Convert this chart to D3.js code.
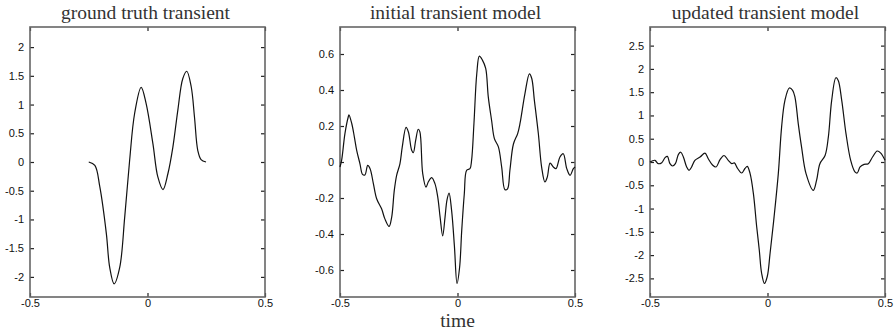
<!DOCTYPE html>
<meta charset="utf-8">
<html lang="en">
<head>
<script src="https://d3js.org/d3.v7.min.js"></script>
<style>
  body { margin: 0; background: #fff; }
  .title { font-family: "Liberation Serif", "Times New Roman", serif; font-size: 19.5px; fill: #333; }
  .tick text { font-family: "Liberation Sans", Arial, sans-serif; font-size: 11px; fill: #111; }
</style>
</head>
<body>
<div id="chart"></div>
<script>
// ground truth transient (t from -0.25 to 0.25)
var truthT = [-0.25, -0.224, -0.203, -0.175, -0.161, -0.142, -0.118, -0.097, -0.076, -0.055, -0.027, -0.006, 0.023, 0.044, 0.066, 0.087, 0.108, 0.129, 0.150, 0.167, 0.186, 0.200, 0.214, 0.228, 0.249];
var truthV = [0, -0.06, -0.43, -1.25, -1.83, -2.12, -1.83, -0.96, 0.03, 0.84, 1.30, 1.02, 0.32, -0.26, -0.48, -0.2, 0.26, 0.9, 1.45, 1.58, 1.31, 0.78, 0.2, 0.04, 0];

// initial transient model
var initT = [-0.5, -0.493, -0.479, -0.465, -0.462, -0.45, -0.439, -0.429, -0.415, -0.404, -0.394, -0.382, -0.372, -0.358, -0.344, -0.323, -0.309, -0.291, -0.28, -0.269, -0.259, -0.245, -0.235, -0.219, -0.209, -0.195, -0.188, -0.178, -0.167, -0.16, -0.148, -0.134, -0.124, -0.11, -0.096, -0.084, -0.074, -0.063, -0.053, -0.045, -0.036, -0.025, -0.013, -0.002, 0.009, 0.018, 0.029, 0.039, 0.053, 0.06, 0.07, 0.082, 0.093, 0.106, 0.12, 0.131, 0.145, 0.157, 0.174, 0.188, 0.202, 0.213, 0.223, 0.238, 0.256, 0.266, 0.287, 0.306, 0.316, 0.327, 0.344, 0.358, 0.372, 0.382, 0.394, 0.408, 0.419, 0.436, 0.45, 0.465, 0.479, 0.493, 0.5];
var initV = [-0.028, 0.01, 0.158, 0.25, 0.262, 0.214, 0.14, 0.065, -0.01, -0.069, -0.072, -0.019, -0.037, -0.12, -0.204, -0.26, -0.316, -0.358, -0.306, -0.158, -0.074, -0.01, 0.084, 0.192, 0.167, 0.065, 0.052, 0.12, 0.182, 0.167, -0.065, -0.14, -0.11, -0.087, -0.12, -0.195, -0.306, -0.41, -0.306, -0.213, -0.173, -0.27, -0.47, -0.675, -0.585, -0.38, -0.176, -0.046, -0.037, 0.01, 0.214, 0.49, 0.588, 0.566, 0.52, 0.362, 0.232, 0.13, 0.084, -0.028, -0.154, -0.149, -0.046, 0.1, 0.158, 0.214, 0.38, 0.49, 0.464, 0.344, 0.158, -0.028, -0.111, -0.084, -0.006, -0.028, -0.037, 0.028, 0.046, -0.037, -0.074, -0.037, -0.028];

// updated transient model
var updT = [-0.5, -0.479, -0.465, -0.45, -0.436, -0.426, -0.415, -0.404, -0.392, -0.379, -0.369, -0.358, -0.344, -0.334, -0.323, -0.309, -0.287, -0.266, -0.252, -0.233, -0.219, -0.202, -0.185, -0.167, -0.152, -0.141, -0.127, -0.11, -0.096, -0.086, -0.074, -0.06, -0.046, -0.035, -0.025, -0.013, -0.001, 0.011, 0.028, 0.046, 0.06, 0.074, 0.093, 0.107, 0.117, 0.131, 0.145, 0.164, 0.195, 0.209, 0.223, 0.245, 0.259, 0.273, 0.291, 0.301, 0.316, 0.334, 0.354, 0.372, 0.382, 0.394, 0.411, 0.429, 0.447, 0.467, 0.482, 0.5];
var updV = [0, 0.036, -0.036, -0.014, 0.093, 0.12, -0.036, -0.086, -0.036, 0.164, 0.21, 0.107, -0.107, -0.18, -0.107, 0.036, 0.107, 0.19, 0.07, -0.07, -0.107, 0.05, 0.14, 0.036, -0.036, -0.02, -0.14, -0.236, -0.14, -0.093, -0.25, -0.68, -1.39, -1.89, -2.39, -2.61, -2.46, -1.96, -1.18, -0.25, 0.75, 1.32, 1.59, 1.54, 1.39, 0.82, 0.32, -0.25, -0.61, -0.39, -0.036, 0.14, 0.54, 1.32, 1.81, 1.75, 1.32, 0.61, 0.036, -0.21, -0.236, -0.107, -0.05, -0.036, 0.107, 0.236, 0.19, 0.036];

var titles = ["ground truth transient", "initial transient model", "updated transient model"];
var yTicks1 = [-2, -1.5, -1, -0.5, 0, 0.5, 1, 1.5, 2];
var yTicks2 = [-0.6, -0.4, -0.2, 0, 0.2, 0.4, 0.6];
var yTicks3 = [-2.5, -2, -1.5, -1, -0.5, 0, 0.5, 1, 1.5, 2, 2.5];
var xTicks = [-0.5, 0, 0.5];

var width = 895, height = 331;
var svg = d3.select("#chart").append("svg")
  .attr("width", width).attr("height", height);

var panels = [
  { left: 30,  t: truthT, v: truthV, ydom: [-2.35, 2.35], yticks: yTicks1 },
  { left: 340, t: initT,  v: initV,  ydom: [-0.75, 0.75], yticks: yTicks2 },
  { left: 650, t: updT,   v: updV,   ydom: [-2.9, 2.9],   yticks: yTicks3 }
];
var pw = 235, plotTop = 27, plotBottom = 297;

function fmt(d) { return String(d); }

panels.forEach(function (p, i) {
  var x = d3.scaleLinear().domain([-0.5, 0.5]).range([p.left, p.left + pw]);
  var y = d3.scaleLinear().domain(p.ydom).range([plotBottom, plotTop]);
  var g = svg.append("g");

  // inward ticks on all four sides, labels only left/bottom
  g.append("g").attr("transform", "translate(0," + plotBottom + ")")
    .call(d3.axisBottom(x).tickValues(xTicks).tickSize(-4).tickPadding(2).tickFormat(fmt));
  g.append("g").attr("transform", "translate(0," + plotTop + ")")
    .call(d3.axisTop(x).tickValues(xTicks).tickSize(-4).tickFormat(""));
  g.append("g").attr("transform", "translate(" + p.left + ",0)")
    .call(d3.axisLeft(y).tickValues(p.yticks).tickSize(-4).tickPadding(6).tickFormat(fmt));
  g.append("g").attr("transform", "translate(" + (p.left + pw) + ",0)")
    .call(d3.axisRight(y).tickValues(p.yticks).tickSize(-4).tickFormat(""));

  g.selectAll(".domain").remove();
  g.selectAll(".tick line").attr("stroke", "#222").attr("stroke-width", 1.2);

  g.append("rect")
    .attr("x", p.left).attr("y", plotTop)
    .attr("width", pw).attr("height", plotBottom - plotTop)
    .attr("fill", "none").attr("stroke", "#666").attr("stroke-width", 1.6);

  var pts = p.t.map(function (t, k) { return [t, p.v[k]]; });
  g.append("path")
    .datum(pts)
    .attr("fill", "none")
    .attr("stroke", "#111")
    .attr("stroke-width", 1.2)
    .attr("d", d3.line()
      .x(function (d) { return x(d[0]); })
      .y(function (d) { return y(d[1]); })
      .curve(d3.curveCatmullRom.alpha(0.5)));

  svg.append("text").attr("class", "title")
    .attr("x", p.left + pw / 2 - 2).attr("y", 19)
    .attr("text-anchor", "middle")
    .text(titles[i]);
});

svg.append("text").attr("class", "title")
  .attr("x", 340 + pw / 2).attr("y", 327)
  .attr("text-anchor", "middle")
  .text("time");
</script>
</body>
</html>
